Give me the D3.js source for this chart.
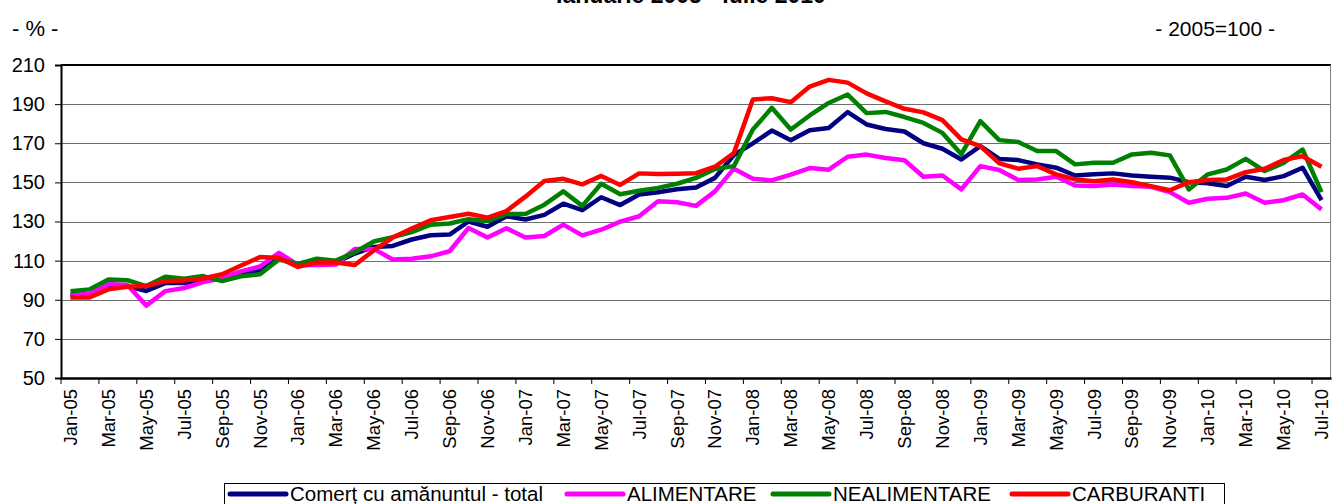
<!DOCTYPE html>
<html>
<head>
<meta charset="utf-8">
<script src="https://cdn.jsdelivr.net/npm/d3@7"></script>
<style>
  body { margin: 0; background: #fff; }
  svg { display: block; font-family: "Liberation Sans", Arial, sans-serif; }
</style>
</head>
<body>
<div id="chart"></div>
<script>
// months, Jan-05 .. Jul-10
const months = [
  "Jan-05","Feb-05","Mar-05","Apr-05","May-05","Jun-05","Jul-05","Aug-05","Sep-05","Oct-05","Nov-05","Dec-05",
  "Jan-06","Feb-06","Mar-06","Apr-06","May-06","Jun-06","Jul-06","Aug-06","Sep-06","Oct-06","Nov-06","Dec-06",
  "Jan-07","Feb-07","Mar-07","Apr-07","May-07","Jun-07","Jul-07","Aug-07","Sep-07","Oct-07","Nov-07","Dec-07",
  "Jan-08","Feb-08","Mar-08","Apr-08","May-08","Jun-08","Jul-08","Aug-08","Sep-08","Oct-08","Nov-08","Dec-08",
  "Jan-09","Feb-09","Mar-09","Apr-09","May-09","Jun-09","Jul-09","Aug-09","Sep-09","Oct-09","Nov-09","Dec-09",
  "Jan-10","Feb-10","Mar-10","Apr-10","May-10","Jun-10","Jul-10"
]
const total = [
  92, 92.5, 97.5, 97, 94.5, 98.5, 98.5, 100, 100.5, 103, 104.8, 111,
  108, 110, 109, 113.6, 117, 117.5, 120.8, 123, 123.3, 130, 127.3, 132.7,
  131, 133.4, 139.1, 135.8, 142.4, 138.4, 143.8, 145, 146.5, 147.4, 152.3, 164,
  169.9, 176.5, 171.5, 176.7, 177.8, 185.9, 179.6, 177.3, 176, 170, 167.2, 161.7,
  168.5, 162, 161.4, 159.2, 157.5, 153.5, 154.1, 154.6, 153.5, 152.9, 152.4, 150.1,
  149.5, 148.1, 152.9, 151.2, 153.2, 157.5, 140.9
]
const alimentare = [
  92.5, 93, 98, 97.5, 87, 94.4, 96, 99, 101, 104.5, 107, 114,
  107.8, 107.8, 108, 116, 116, 110.6, 111, 112.2, 114.8, 126.7, 121.8, 126.5,
  121.8, 122.6, 128.4, 122.9, 125.8, 129.9, 132.7, 140.3, 139.8, 138, 145.4, 157,
  151.8, 151, 154, 157.3, 156.5, 163.1, 164.2, 162.5, 161.3, 152.9, 153.5, 146.4,
  158.3, 156.3, 151.2, 151.5, 152.9, 148.4, 148.1, 148.9, 148.1, 147.7, 145, 139.6,
  141.6, 142.1, 144.3, 139.6, 140.9, 143.8, 136.2
]
const nealimentare = [
  94.4, 95.3, 100.4, 100, 97, 101.8, 100.7, 102.1, 99.5, 102, 103, 110.6,
  108.3, 111, 110, 114.3, 119.8, 122, 124.6, 128.4, 129, 131.2, 130.2, 133.8,
  133.8, 138.6, 145.4, 138, 149.3, 143.9, 145.7, 147.2, 149.3, 152.3, 156.8, 158.3,
  177, 188.1, 177, 184.2, 190.6, 194.9, 185.4, 186, 183.4, 180.4, 175.3, 164.4,
  181.3, 171.6, 170.6, 166, 166, 159.2, 160, 160, 164.3, 165.1, 163.8, 146.4,
  154.1, 156.6, 162, 155.8, 160, 166.8, 145
]
const carburanti = [
  91.2, 91.2, 95.3, 96.6, 97, 99.5, 99.9, 100.9, 103, 107.5, 111.8, 111.3,
  106.8, 109, 109, 107.8, 115.2, 121.8, 126.4, 130.6, 132.3, 134, 132, 135.3,
  142.7, 150.7, 151.8, 149, 153.3, 148.7, 154.6, 154.3, 154.4, 154.7, 158, 165,
  192.4, 193, 191, 199, 202.4, 201, 195.5, 191.4, 187.6, 185.8, 181.8, 172,
  168.5, 159.7, 157, 158.3, 154.1, 151.5, 150.6, 151.5, 150.1, 148.1, 146, 150.1,
  151.2, 151.5, 155.2, 157, 161.4, 163.4, 158
]
const yTicks = [50, 70, 90, 110, 130, 150, 170, 190, 210]

const series = [
  { name: 'Comerț cu amănuntul - total', values: total, color: '#000080' },
  { name: 'ALIMENTARE', values: alimentare, color: '#FF00FF' },
  { name: 'NEALIMENTARE', values: nealimentare, color: '#008000' },
  { name: 'CARBURANTI', values: carburanti, color: '#FF0000' }
]

const W = 1333, H = 504
const margin = { top: 65, right: 2, bottom: 126, left: 61 }
const width = W - margin.left - margin.right,
    height = H - margin.top - margin.bottom

const svg = d3.select('#chart').append('svg')
    .attr('width', W)
    .attr('height', H)

const xScale = d3.scaleBand()
    .domain(months)
    .range([0, width])
    .padding(0)

const yScale = d3.scaleLinear()
    .domain([50, 210])
    .range([height, 0])

const g = svg.append('g')
    .attr('transform', `translate(${margin.left}, ${margin.top})`)

// grid lines
g.append('g')
  .selectAll('line')
  .data(yTicks.filter(d => d > 50 && d < 210))
  .join('line')
    .attr('x1', 0).attr('x2', width)
    .attr('y1', d => Math.round(yScale(d)) + 0.5)
    .attr('y2', d => Math.round(yScale(d)) + 0.5)
    .attr('stroke', '#6e6e6e')
    .attr('stroke-width', 1.2)

// plot frame (top + right)
g.append('line').attr('x1', 0).attr('x2', width).attr('y1', 0).attr('y2', 0)
    .attr('stroke', '#000').attr('stroke-width', 2)
g.append('line').attr('x1', width - 0.5).attr('x2', width - 0.5).attr('y1', 0).attr('y2', height)
    .attr('stroke', '#808080').attr('stroke-width', 1)

// y axis
const yAxis = g.append('g')
    .call(d3.axisLeft(yScale).tickValues(yTicks).tickSize(6).tickPadding(10))
yAxis.select('.domain').attr('stroke', '#000').attr('stroke-width', 2)
yAxis.selectAll('.tick line').attr('stroke', '#000')
yAxis.selectAll('text').attr('font-size', 20).attr('fill', '#000')

// x axis: labels every 2nd month at band centres, ticks on the band edges
const labelMonths = months.filter((d, i) => i % 2 === 0)
const xAxis = g.append('g')
    .attr('transform', `translate(0, ${height})`)
    .call(d3.axisBottom(xScale).tickValues(labelMonths).tickSize(0).tickPadding(0))
xAxis.select('.domain').attr('stroke', '#000').attr('stroke-width', 2.5)
xAxis.selectAll('text')
    .attr('font-size', 18.5)
    .attr('fill', '#000')
    .attr('text-anchor', 'end')
    .attr('dy', '0.35em')
    .attr('transform', 'translate(0, 11) rotate(-90)')
    .attr('x', 0).attr('y', 0)

g.append('g')
  .selectAll('line')
  .data(labelMonths)
  .join('line')
    .attr('x1', d => xScale(d)).attr('x2', d => xScale(d))
    .attr('y1', height).attr('y2', height + 6)
    .attr('stroke', '#000')

// series lines
const line = d3.line()
    .x((d, i) => xScale(months[i]) + xScale.bandwidth() / 2)
    .y(d => yScale(d))

g.append('g')
  .selectAll('path')
  .data(series)
  .join('path')
    .attr('d', d => line(d.values))
    .attr('fill', 'none')
    .attr('stroke', d => d.color)
    .attr('stroke-width', 4.5)
    .attr('stroke-linejoin', 'round')

// headings
svg.append('text')
    .attr('x', 691).attr('y', 3)
    .attr('text-anchor', 'middle')
    .attr('font-size', 23).attr('font-weight', 'bold')
    .text('Ianuarie 2005 - iulie 2010')
svg.append('text')
    .attr('x', 12).attr('y', 36)
    .attr('font-size', 22)
    .text('- % -')
svg.append('text')
    .attr('x', 1275).attr('y', 36)
    .attr('text-anchor', 'end')
    .attr('font-size', 21)
    .text('- 2005=100 -')

// legend
const legend = svg.append('g')
legend.append('rect')
    .attr('x', 224.5).attr('y', 483.5)
    .attr('width', 1000).attr('height', 30)
    .attr('fill', '#fff').attr('stroke', '#000')
const legendX = [230, 567, 773, 1012]
const items = legend.selectAll('g.item')
  .data(series)
  .join('g')
    .attr('class', 'item')
    .attr('transform', (d, i) => `translate(${legendX[i]}, 494)`)
items.append('line')
    .attr('x1', 0).attr('x2', 56)
    .attr('stroke', d => d.color)
    .attr('stroke-width', 5)
    .attr('stroke-linecap', 'round')
items.append('text')
    .attr('x', 60).attr('dy', '0.36em')
    .attr('font-size', 20.5)
    .text(d => d.name)
</script>
</body>
</html>
